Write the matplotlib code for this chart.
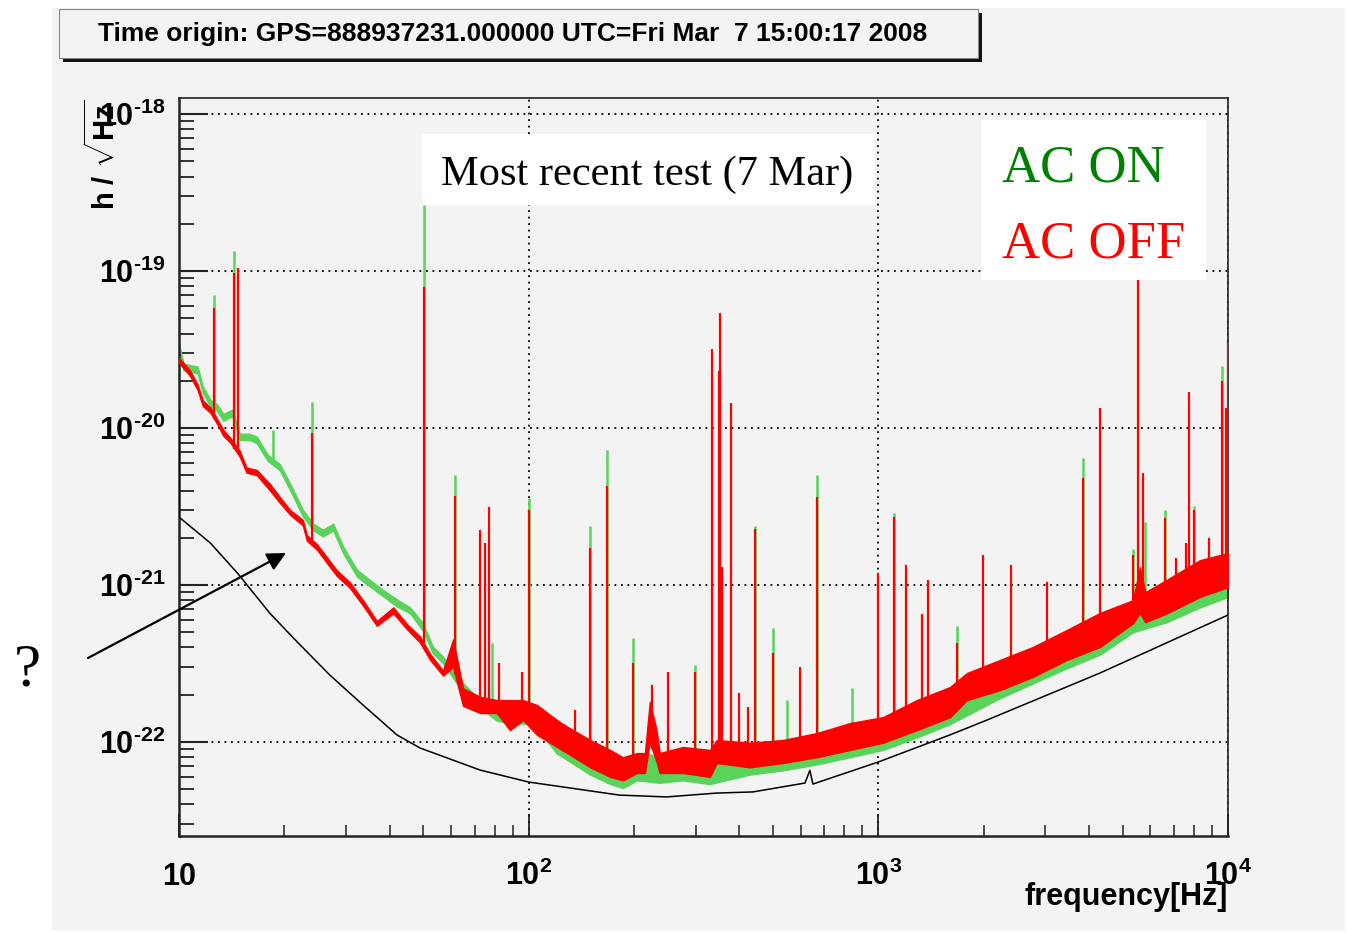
import numpy as np
import matplotlib
matplotlib.use("Agg")
import matplotlib.pyplot as plt
from matplotlib.patches import Rectangle, FancyArrowPatch
from matplotlib.ticker import FixedLocator, FixedFormatter, LogLocator, NullFormatter

plt.rcParams['font.family'] = ['Liberation Sans', 'DejaVu Sans']
plt.rcParams['mathtext.fontset'] = 'custom'
plt.rcParams['mathtext.rm'] = 'Liberation Sans:bold'
plt.rcParams['mathtext.it'] = 'Liberation Sans:bold'
plt.rcParams['mathtext.bf'] = 'Liberation Sans:bold'
plt.rcParams['mathtext.default'] = 'rm'

W, H = 1347, 933
BG = '#f3f3f3'
GREEN = '#5ad35a'
RED = '#ff0000'

# ---------------------------------------------------------------- data
TITLE = "Time origin: GPS=888937231.000000 UTC=Fri Mar  7 15:00:17 2008"
NOTE = "Most recent test (7 Mar)"
LEG_ON = "AC ON"
LEG_OFF = "AC OFF"

x_ticks = [10, 100, 1000, 10000]
x_tick_labels = [r"$10$", r"$10^{2}$", r"$10^{3}$", r"$10^{4}$"]
y_ticks = [1e-22, 1e-21, 1e-20, 1e-19, 1e-18]
y_tick_labels = [r"$10^{\text{-}22}$", r"$10^{\text{-}21}$", r"$10^{\text{-}20}$",
                 r"$10^{\text{-}19}$", r"$10^{\text{-}18}$"]

# design sensitivity (black)
design_f = [10, 10, 12.3, 14.7, 18.2, 21.5, 27.0, 33.6, 37.6, 42.0, 48.9, 72.6, 100,
            182, 248, 345, 438, 617, 637, 650, 1000, 1603, 2045, 4303, 10000]
design_h = [1.3e-20, 2.71e-21, 1.85e-21, 1.19e-21, 6.6e-22, 4.47e-22, 2.67e-22, 1.72e-22,
            1.38e-22, 1.11e-22, 9.16e-23, 6.63e-23, 5.56e-23, 4.59e-23, 4.47e-23, 4.73e-23,
            4.81e-23, 5.48e-23, 6.6e-23, 5.4e-23, 7.46e-23, 1.11e-22, 1.38e-22, 2.75e-22, 6.44e-22]

# AC OFF (red) noise band
red_f = [10, 10.75, 11.3, 11.7, 12.3, 12.8, 13.4, 14.0, 14.9, 15.6,
         16.7, 18.2, 19.4, 20.8, 22.6, 23.2, 24.8, 26.5, 28.3, 30.8,
         33.6, 36.8, 41.0, 45.0, 48.9, 52.2, 56.9, 60.8, 64.9, 72.6,
         81.1, 88.4, 96.4, 105.7, 120.5, 129, 150, 171, 186, 204,
         215, 222, 232, 237, 276, 330, 345, 429, 533, 667,
         829, 1031, 1289, 1603, 1792, 2227, 2768, 3459, 4303, 5346,
         5600, 5800, 6683, 8318, 10000]
red_hi = [2.8e-20, 2.33e-20, 1.89e-20, 1.5e-20, 1.35e-20, 1.16e-20, 9.7e-21, 8.7e-21, 7.2e-21, 5.6e-21,
          5.4e-21, 4.4e-21, 3.65e-21, 3.0e-21, 2.6e-21, 2.08e-21, 1.82e-21, 1.5e-21, 1.24e-21, 1.04e-21,
          8.0e-22, 5.9e-22, 7.2e-22, 5.6e-22, 4.7e-22, 3.65e-22, 2.85e-22, 4.5e-22, 2.2e-22, 1.94e-22,
          1.85e-22, 1.85e-22, 1.85e-22, 1.72e-22, 1.38e-22, 1.25e-22, 1.03e-22, 8.9e-23, 8.0e-23, 8.5e-23,
          8.5e-23, 1.8e-22, 1.2e-22, 8.5e-23, 9.3e-23, 8.9e-23, 1.03e-22, 9.9e-23, 1.03e-22, 1.14e-22,
          1.32e-22, 1.44e-22, 1.85e-22, 2.24e-22, 2.75e-22, 3.33e-22, 4.03e-22, 5.17e-22, 6.64e-22, 8.0e-22,
          1.3e-21, 9.0e-22, 1.08e-21, 1.44e-21, 1.6e-21]
red_lo = [2.6e-20, 2.15e-20, 1.75e-20, 1.38e-20, 1.25e-20, 1.08e-20, 8.9e-21, 8.1e-21, 6.6e-21, 5.2e-21,
          5.0e-21, 4.0e-21, 3.35e-21, 2.8e-21, 2.4e-21, 1.92e-21, 1.68e-21, 1.38e-21, 1.14e-21, 9.6e-22,
          7.4e-22, 5.5e-22, 6.6e-22, 5.2e-22, 4.3e-22, 3.35e-22, 2.65e-22, 3.0e-22, 1.7e-22, 1.53e-22,
          1.53e-22, 1.19e-22, 1.38e-22, 1.11e-22, 9.3e-23, 8.5e-23, 6.9e-23, 6.0e-23, 5.7e-23, 6.35e-23,
          6.35e-23, 1.0e-22, 7.5e-23, 6.35e-23, 6.35e-23, 6.0e-23, 7.35e-23, 6.9e-23, 7.35e-23, 8.0e-23,
          8.9e-23, 9.9e-23, 1.19e-22, 1.44e-22, 1.85e-22, 2.14e-22, 2.6e-22, 3.33e-22, 4.03e-22, 5.7e-22,
          6.64e-22, 5.8e-22, 6.6e-22, 8.4e-22, 9.7e-22]

# AC ON (green) noise band
green_f = [10, 10.3, 11.3, 11.7, 12.3, 12.8, 13.4, 14.2, 14.9, 15.9,
           16.7, 17.9, 19.4, 20.3, 21.2, 22.6, 24.2, 25.8, 27.6, 29.5,
           32.3, 35.1, 38.3, 42.0, 45.8, 49.9, 53.2, 56.9, 62.3, 67.9,
           74.2, 81.1, 88.4, 101, 110, 120, 150, 171, 186, 204,
           237, 276, 330, 429, 533, 667, 829, 1031, 1289, 1603,
           2227, 3459, 4303, 5346, 6683, 8318, 10000]
green_hi = [3.45e-20, 2.57e-20, 2.46e-20, 1.84e-20, 1.51e-20, 1.43e-20, 1.23e-20, 1.31e-20, 9.2e-21, 9.2e-21,
            8.8e-21, 6.8e-21, 5.9e-21, 4.9e-21, 4.05e-21, 3.02e-21, 2.46e-21, 2.25e-21, 2.46e-21, 1.75e-21,
            1.25e-21, 1.08e-21, 9.3e-22, 8.1e-22, 7.2e-22, 5.7e-22, 4.05e-22, 3.5e-22, 2.6e-22, 2.15e-22,
            1.75e-22, 1.51e-22, 1.45e-22, 1.45e-22, 1.2e-22, 1.3e-22, 1.0e-22, 8.7e-23, 7.8e-23, 8.3e-23,
            8.3e-23, 9.0e-23, 8.7e-23, 9.6e-23, 1.0e-22, 1.1e-22, 1.28e-22, 1.4e-22, 1.8e-22, 2.15e-22,
            3.1e-22, 4.8e-22, 6.0e-22, 7.2e-22, 9.4e-22, 1.2e-21, 1.35e-21]
green_lo = [3.12e-20, 2.33e-20, 2.23e-20, 1.67e-20, 1.37e-20, 1.3e-20, 1.11e-20, 1.19e-20, 8.4e-21, 8.4e-21,
            8.0e-21, 6.2e-21, 5.4e-21, 4.45e-21, 3.68e-21, 2.74e-21, 2.23e-21, 2.04e-21, 2.23e-21, 1.59e-21,
            1.13e-21, 9.8e-22, 8.5e-22, 7.3e-22, 6.6e-22, 5.1e-22, 3.68e-22, 3.17e-22, 2.36e-22, 1.95e-22,
            1.59e-22, 1.37e-22, 1.31e-22, 1.31e-22, 1.09e-22, 8.5e-23, 6.2e-23, 5.4e-23, 5.1e-23, 5.7e-23,
            5.5e-23, 5.7e-23, 5.4e-23, 6.2e-23, 6.6e-23, 7.2e-23, 8.0e-23, 8.9e-23, 1.07e-22, 1.3e-22,
            1.9e-22, 2.95e-22, 3.6e-22, 5.0e-22, 5.8e-22, 7.2e-22, 8.4e-22]

# spectral lines: frequency and peak height
red_line_f = [12.6, 14.4, 14.75, 24.0, 50.2, 61.5, 72.6, 75.0, 77.0, 82.3,
              95.4, 100, 135.6, 150, 167.5, 198.7, 225.5, 250, 299, 334.5,
              351, 352.5, 358, 379, 399, 424, 444, 500, 597, 667,
              1000, 1108, 1200, 1333, 1387, 1679, 1991, 2395, 3034, 3847,
              4303, 5346, 5521, 5715, 6601, 7100, 7583, 7727, 7990, 8819,
              9607, 9870, 9980]
red_line_top = [5.8e-20, 9.7e-20, 1.05e-19, 9.3e-21, 7.9e-20, 3.7e-21, 2.24e-21, 1.85e-21, 3.14e-21, 3.2e-22,
                2.8e-22, 3.0e-21, 1.6e-22, 1.72e-21, 4.27e-21, 3.2e-22, 2.3e-22, 2.8e-22, 2.8e-22, 3.2e-20,
                2.3e-20, 5.4e-20, 1.3e-21, 1.44e-20, 2.05e-22, 1.67e-22, 2.27e-21, 3.69e-22, 3.0e-22, 3.64e-21,
                1.19e-21, 2.71e-21, 1.34e-21, 6.5e-22, 1.08e-21, 4.3e-22, 1.55e-21, 1.34e-21, 1.05e-21, 4.8e-21,
                1.34e-20, 1.55e-21, 1.5e-19, 5.17e-21, 2.67e-21, 1.49e-21, 1.85e-21, 1.7e-20, 3.0e-21, 2.0e-21,
                2.0e-20, 1.34e-20, 3.5e-20]
green_line_f = [12.6, 14.4, 18.6, 24.0, 50.2, 61.5, 78.5, 100, 150, 167.5,
                198.7, 299, 444, 500, 548, 667, 840, 1108, 1679, 3847,
                5346, 5780, 6601, 7990, 9607]
green_line_top = [7.0e-20, 1.34e-19, 9.7e-21, 1.47e-20, 2.63e-19, 5.0e-21, 4.3e-22, 3.58e-21, 2.38e-21, 7.24e-21,
                  4.6e-22, 3.09e-22, 2.38e-21, 5.3e-22, 1.85e-22, 5.0e-21, 2.2e-22, 2.88e-21, 5.5e-22, 6.44e-21,
                  1.7e-21, 2.52e-21, 3.0e-21, 3.18e-21, 2.48e-20]


# ---------------------------------------------------------------- helpers
def fx(x):
    return x / W


def fy(y):
    return 1 - y / H


def fig_rect(fig, x0, y0, x1, y1, **kw):
    r = Rectangle((fx(x0), fy(y1)), (x1 - x0) / W, (y1 - y0) / H,
                  transform=fig.transFigure, **kw)
    fig.add_artist(r)
    return r


def band_at(f, band_f, band_v):
    # log-log lookup of the band edge under a line
    return 10 ** np.interp(np.log10(f), np.log10(band_f), np.log10(band_v))


# ---------------------------------------------------------------- figure
fig = plt.figure(figsize=(W / 100, H / 100), dpi=100)
fig.patch.set_facecolor('white')
fig_rect(fig, 52, 8, 1345, 931, facecolor=BG, edgecolor='none', zorder=-2)

# title pave with shadow
fig_rect(fig, 63, 13, 982, 62, facecolor='#111111', edgecolor='none', zorder=1)
fig_rect(fig, 59, 9, 978, 58, facecolor=BG, edgecolor='#888888', lw=0.8, zorder=1.1)
fig.text(fx(513), fy(34), TITLE, ha='center', va='center', fontsize=19,
         fontweight='bold', family='Liberation Sans', zorder=2)

ax = fig.add_axes([fx(179), fy(836), (1228 - 179) / W, (836 - 98) / H])
ax.set_facecolor(BG)
ax.set_xscale('log')
ax.set_yscale('log')
ax.set_axisbelow(True)

# AC ON first, AC OFF on top
ax.fill_between(green_f, green_lo, green_hi, facecolor=GREEN, edgecolor=GREEN, lw=1.0, zorder=2)
g_base = band_at(green_line_f, green_f, green_lo)
ax.vlines(green_line_f, g_base, green_line_top, colors=GREEN, lw=1.8, zorder=2.1)

ax.fill_between(red_f, red_lo, red_hi, facecolor=RED, edgecolor=RED, lw=1.0, zorder=3)
r_base = band_at(red_line_f, red_f, red_lo)
ax.vlines(red_line_f, r_base, red_line_top, colors=RED, lw=1.6, zorder=3.1)

ax.plot(design_f, design_h, color='black', lw=1.1, zorder=4)

ax.set_xlim(10, 1e4)
ax.set_ylim(2.52e-23, 1.265e-18)

ax.xaxis.set_major_locator(FixedLocator(x_ticks))
ax.xaxis.set_major_formatter(FixedFormatter(x_tick_labels))
ax.xaxis.set_minor_locator(LogLocator(base=10, subs=np.arange(2, 10), numticks=30))
ax.xaxis.set_minor_formatter(NullFormatter())
ax.yaxis.set_major_locator(FixedLocator(y_ticks))
ax.yaxis.set_major_formatter(FixedFormatter(y_tick_labels))
ax.yaxis.set_minor_locator(LogLocator(base=10, subs=np.arange(2, 10), numticks=30))
ax.yaxis.set_minor_formatter(NullFormatter())

ax.tick_params(axis='y', which='major', direction='in', length=21, width=1.5,
               labelsize=22, pad=10, right=False, color='#222222')
ax.tick_params(axis='y', which='minor', direction='in', length=10.5, width=1.3,
               right=False, color='#222222')
ax.tick_params(axis='x', which='major', direction='in', length=16, width=1.3,
               labelsize=22, pad=35, top=False, color='#222222')
ax.tick_params(axis='x', which='minor', direction='in', length=8, width=1.1,
               top=False, color='#222222')
for t in ax.xaxis.get_major_ticks():
    t.label1.set_verticalalignment('baseline')

ax.grid(True, which='major', color='black', linestyle=(0, (1, 2.6)), lw=1.3)

for side in ['left', 'bottom']:
    ax.spines[side].set_linewidth(1.8)
    ax.spines[side].set_color('#222222')
for side in ['top', 'right']:
    ax.spines[side].set_linewidth(1.2)
    ax.spines[side].set_color('#222222')

ax.set_xlabel("frequency[Hz]", fontsize=22, fontweight='bold')
ax.xaxis.set_label_coords(1.0, -0.062)
ax.xaxis.label.set_ha('right')
ax.xaxis.label.set_va('top')

ax.set_ylabel(r"h / $\sqrt{Hz}$", fontsize=21, fontweight='bold')
ax.yaxis.label.set_rotation_mode('anchor')
ax.yaxis.set_label_coords(-0.0725, 0.998)
ax.yaxis.label.set_ha('right')
ax.yaxis.label.set_va('center')

# annotation boxes drawn over the plot
fig_rect(fig, 422, 134, 875, 205, facecolor='white', edgecolor='none', zorder=5)
fig.text(fx(441), fy(185), NOTE, ha='left', va='baseline', fontsize=30.5,
         family='Liberation Serif', color='black', zorder=6)

fig_rect(fig, 981, 120, 1206, 280, facecolor='white', edgecolor='none', zorder=5)
fig.text(fx(1002), fy(182), LEG_ON, ha='left', va='baseline', fontsize=38,
         family='Liberation Serif', color='#008000', zorder=6)
fig.text(fx(1002), fy(258), LEG_OFF, ha='left', va='baseline', fontsize=38,
         family='Liberation Serif', color=RED, zorder=6)

# the arrow and question mark on the left
arrow = FancyArrowPatch((fx(88), fy(658)), (fx(286), fy(553)), transform=fig.transFigure,
                        arrowstyle='-|>', mutation_scale=28, lw=1.6, color='black',
                        shrinkA=0, shrinkB=0, zorder=6)
fig.add_artist(arrow)
fig.text(fx(27), fy(685), "?", ha='center', va='baseline', fontsize=44,
         family='Liberation Serif', color='black', zorder=6)

fig.savefig('out.png', dpi=100, facecolor='white')
